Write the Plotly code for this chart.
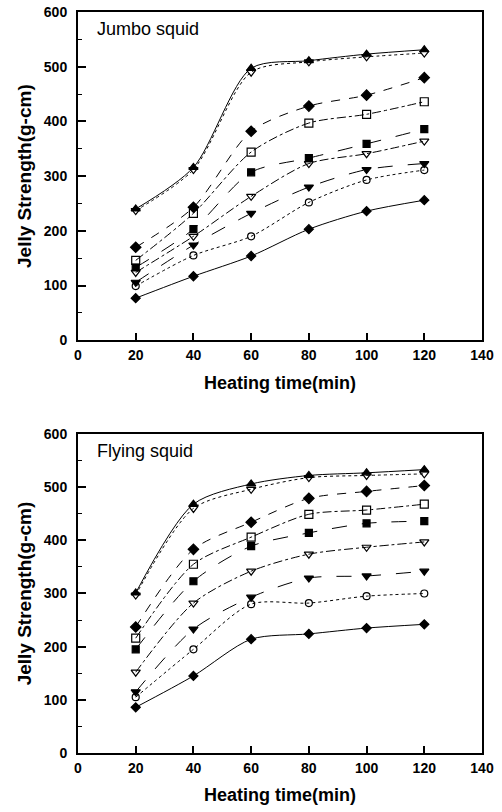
import plotly.graph_objects as go

time_min = [20, 40, 60, 80, 100, 120]

# Jumbo squid (top panel)
jumbo_a = [240, 316, 497, 511, 523, 531]
jumbo_b = [237, 312, 490, 509, 518, 525]
jumbo_c = [170, 243, 382, 428, 448, 480]
jumbo_d = [146, 232, 344, 397, 413, 436]
jumbo_e = [133, 203, 307, 333, 359, 386]
jumbo_f = [124, 190, 263, 323, 341, 364]
jumbo_g = [106, 174, 232, 280, 312, 323]
jumbo_h = [99, 155, 190, 252, 293, 311]
jumbo_i = [77, 117, 154, 203, 236, 256]

# Flying squid (bottom panel)
flying_a = [301, 468, 506, 522, 527, 533]
flying_b = [297, 460, 496, 518, 522, 525]
flying_c = [237, 383, 434, 479, 492, 503]
flying_d = [216, 355, 406, 449, 457, 468]
flying_e = [195, 323, 389, 414, 432, 436]
flying_f = [152, 282, 342, 374, 387, 397]
flying_g = [115, 233, 293, 329, 333, 342]
flying_h = [105, 195, 280, 282, 295, 300]
flying_i = [86, 145, 214, 224, 235, 242]

x_ticks = [0, 20, 40, 60, 80, 100, 120, 140]
y_ticks = [0, 100, 200, 300, 400, 500, 600]

panel_titles = ["Jumbo squid", "Flying squid"]
x_title = "Heating time(min)"
y_title = "Jelly Strength(g-cm)"

styles = [
    dict(symbol="triangle-up", dash="solid", size=8),
    dict(symbol="triangle-down-open", dash="dot", size=8),
    dict(symbol="diamond", dash="dash", size=8),
    dict(symbol="square-open", dash="dashdot", size=8),
    dict(symbol="square", dash="longdash", size=7),
    dict(symbol="triangle-down-open", dash="dashdot", size=8),
    dict(symbol="triangle-down", dash="longdash", size=8),
    dict(symbol="circle-open", dash="dot", size=7),
    dict(symbol="diamond", dash="solid", size=7),
]

top_series = [jumbo_a, jumbo_b, jumbo_c, jumbo_d, jumbo_e, jumbo_f, jumbo_g, jumbo_h, jumbo_i]
bot_series = [flying_a, flying_b, flying_c, flying_d, flying_e, flying_f, flying_g, flying_h, flying_i]

fig = go.Figure()
for series, xa, ya in [(top_series, "x", "y"), (bot_series, "x2", "y2")]:
    for vals, st in zip(series, styles):
        fig.add_trace(go.Scatter(
            x=time_min, y=vals, xaxis=xa, yaxis=ya,
            mode="lines+markers",
            line=dict(color="black", width=1, dash=st["dash"], shape="spline", smoothing=0.8),
            marker=dict(symbol=st["symbol"], size=st["size"], color="black",
                        line=dict(color="black", width=1.2)),
            showlegend=False,
        ))

tick_font = dict(family="Liberation Sans Narrow, Arial Narrow, Liberation Sans, Arial", size=14, color="black")
title_font_x = dict(family="Liberation Sans, Arial", size=18, color="black")
title_font_y = dict(family="Liberation Sans, Arial", size=19, color="black")

def xaxis_cfg(anchor):
    return dict(
        anchor=anchor, domain=[0, 1], range=[0, 140], tickvals=x_ticks,
        ticktext=["<b>%d</b>" % v for v in x_ticks],
        ticks="inside", ticklen=7, tickwidth=1.5, tickcolor="black",
        showline=True, linecolor="black", linewidth=2, mirror=True,
        showgrid=False, zeroline=False, automargin=False,
        tickfont=tick_font, ticklabelstandoff=1,
        title=dict(text="<b>" + x_title + "</b>", font=title_font_x, standoff=14),
    )

def yaxis_cfg(anchor, domain):
    return dict(
        anchor=anchor, domain=domain, range=[0, 600], tickvals=y_ticks,
        ticktext=["<b>%d</b>" % v for v in y_ticks],
        ticks="inside", ticklen=8, tickwidth=1.5, tickcolor="black",
        minor=dict(dtick=50, ticks="inside", ticklen=4, tickcolor="black", tickwidth=1),
        showline=True, linecolor="black", linewidth=2, mirror=True,
        showgrid=False, zeroline=False, automargin=False,
        tickfont=tick_font, ticklabelstandoff=6,
        title=dict(text="<b>" + y_title + "</b>", font=title_font_y, standoff=7),
    )

fig.update_layout(
    width=502, height=812,
    margin=dict(l=78, r=20, t=12, b=59),
    paper_bgcolor="white", plot_bgcolor="white",
    xaxis=xaxis_cfg("y"),
    yaxis=yaxis_cfg("x", [0.557, 1.0]),
    xaxis2=xaxis_cfg("y2"),
    yaxis2=yaxis_cfg("x2", [0.0, 0.4305]),
    annotations=[
        dict(text=panel_titles[0], xref="x domain", yref="y domain", x=0.042, y=0.985,
             xanchor="left", yanchor="top", showarrow=False,
             font=dict(family="Liberation Sans, Arial", size=18, color="black")),
        dict(text=panel_titles[1], xref="x2 domain", yref="y2 domain", x=0.042, y=0.985,
             xanchor="left", yanchor="top", showarrow=False,
             font=dict(family="Liberation Sans, Arial", size=18, color="black")),
    ],
)

# remove the default 8px page margin so the figure sits at the window origin
fig.write_html(
    "out.html",
    config={"displayModeBar": False},
    post_script="document.body.style.margin='0px';document.body.style.overflow='hidden';",
)
